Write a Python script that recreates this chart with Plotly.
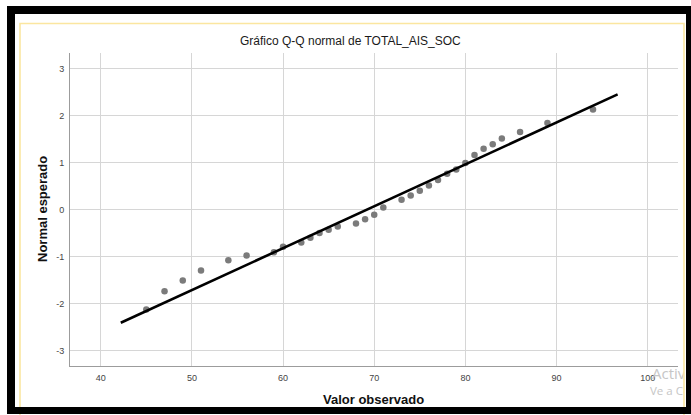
import plotly.graph_objects as go

# ---- data ----
observed = [45, 47, 49, 51, 54, 56, 59, 60, 62, 63, 64, 65, 66, 68, 69, 70, 71,
            73, 74, 75, 76, 77, 78, 79, 80, 81, 82, 83, 84, 86, 89, 94]
expected = [-2.13, -1.74, -1.51, -1.30, -1.08, -0.98, -0.91, -0.79, -0.70, -0.60,
            -0.50, -0.43, -0.36, -0.30, -0.21, -0.11, 0.04, 0.21, 0.30, 0.40, 0.51,
            0.63, 0.76, 0.85, 0.99, 1.16, 1.29, 1.39, 1.51, 1.65, 1.84, 2.13]
line_obs = [42.2, 96.7]
line_z = [-2.41, 2.45]
x_ticks = [40, 50, 60, 70, 80, 90, 100]
y_ticks = [-3, -2, -1, 0, 1, 2, 3]
y_tick_labels = ["-3", "-2", "-1", "0", "1", "2", "3"]

W, H = 691, 415
def px(x):
    return x / W
def py(y):
    return 1 - y / H

FONT = "Liberation Sans, Arial, sans-serif"

fig = go.Figure()
fig.add_trace(go.Scatter(x=observed, y=expected, mode="markers",
                         marker=dict(color="#7b7b7b", size=6.5, line=dict(width=0)),
                         showlegend=False, hoverinfo="skip"))
fig.add_trace(go.Scatter(x=line_obs, y=line_z, mode="lines",
                         line=dict(color="#000000", width=2.6),
                         showlegend=False, hoverinfo="skip"))
# watermark text, clipped by its own small subplot
fig.add_trace(go.Scatter(x=[12 / 44, 10 / 44], y=[(404 - 375) / 36, (404 - 392) / 36],
                         text=["Activa", "Ve a Co"], mode="text",
                         textposition="middle right",
                         textfont=dict(family="Open Sans, sans-serif", size=[15, 11.5], color="#c6c6c6"),
                         xaxis="x2", yaxis="y2", showlegend=False, hoverinfo="skip",
                         cliponaxis=True))

fig.update_layout(
    width=W, height=H,
    margin=dict(l=0, r=0, t=0, b=0, autoexpand=False),
    paper_bgcolor="#ffffff",
    plot_bgcolor="rgba(0,0,0,0)",
    xaxis=dict(domain=[px(70), px(677.7)], range=[36.63, 103.29],
               tickvals=x_ticks, ticks="", showline=True, linecolor="#9c9c9c", linewidth=1,
               showgrid=True, gridcolor="#d6d6d6", gridwidth=1, zeroline=False,
               tickfont=dict(family=FONT, size=9, color="#444444"), ticklabelstandoff=3),
    yaxis=dict(domain=[py(366), py(53)], range=[-3.33, 3.33],
               tickvals=y_ticks, ticktext=y_tick_labels, ticks="", showline=True,
               linecolor="#9c9c9c", linewidth=1,
               showgrid=True, gridcolor="#d6d6d6", gridwidth=1, zeroline=False,
               tickfont=dict(family=FONT, size=9, color="#444444"), ticklabelstandoff=3),
    xaxis2=dict(domain=[px(640), px(684)], range=[0, 1], visible=False, anchor="y2"),
    yaxis2=dict(domain=[py(404), py(368)], range=[0, 1], visible=False, anchor="x2"),
)

fig.add_annotation(text="Gráfico Q-Q normal de TOTAL_AIS_SOC", xref="paper", yref="paper",
                   x=px(350), y=py(40.5), xanchor="center", yanchor="middle", showarrow=False,
                   font=dict(family=FONT, size=12, color="#1a1a1a"))
fig.add_annotation(text="<b>Valor observado</b>", xref="paper", yref="paper",
                   x=px(373.5), y=py(399), xanchor="center", yanchor="middle", showarrow=False,
                   font=dict(family=FONT, size=13, color="#111111"))
fig.add_annotation(text="<b>Normal esperado</b>", xref="paper", yref="paper",
                   x=px(42), y=py(209), xanchor="center", yanchor="middle", showarrow=False,
                   textangle=-90, font=dict(family=FONT, size=13, color="#111111"))

shapes = [
    dict(type="rect", xref="paper", yref="paper", x0=px(20), x1=px(684), y0=py(23.5), y1=py(420),
         line=dict(color="#fbe6a0", width=1.6), fillcolor="rgba(0,0,0,0)", layer="above"),
]
for (x0, y0, x1, y1) in [(7, 6, 691, 14), (7, 6, 15, 414), (686, 6, 691, 414), (7, 407, 691, 414)]:
    shapes.append(dict(type="rect", xref="paper", yref="paper", x0=px(x0), x1=px(x1),
                       y0=py(y1), y1=py(y0), line=dict(width=0), fillcolor="#000000",
                       layer="above"))
fig.update_layout(shapes=shapes)

fig.write_html("out.html", config={"displayModeBar": False},
               post_script="document.body.style.margin='0';document.body.style.overflow='hidden';")
